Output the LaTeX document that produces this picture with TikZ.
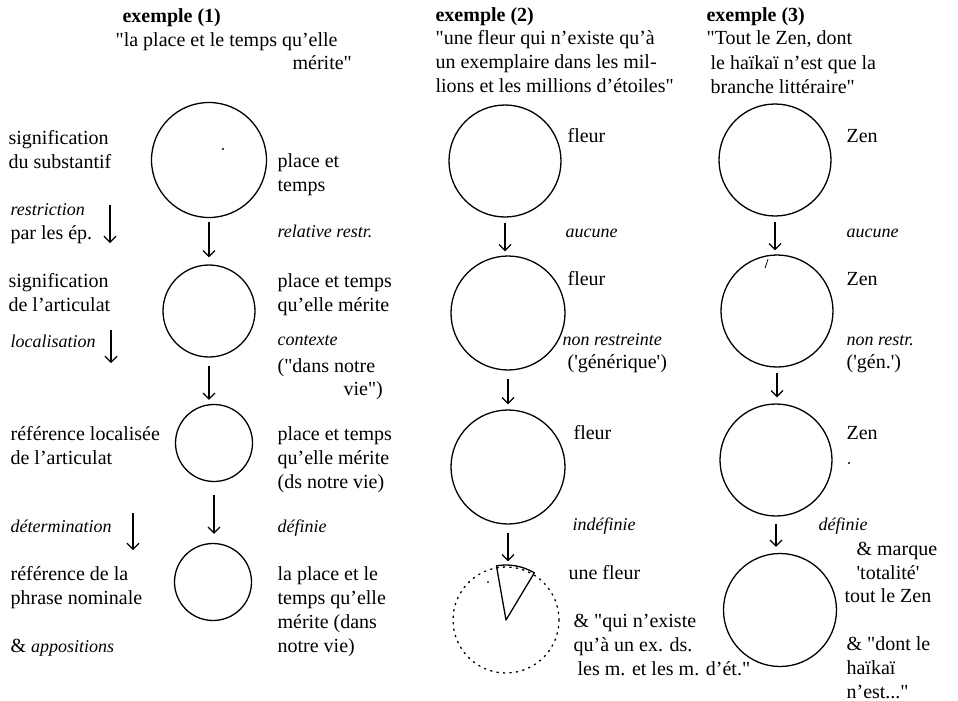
\documentclass[tikz,border=0pt]{standalone}
\usepackage{fontspec}
\setmainfont{Liberation Serif}[Ligatures=TeXOff]
\usetikzlibrary{arrows.meta}
\newcommand{\txtlines}[1]{\begin{tabular}[t]{@{}l@{}}#1\end{tabular}}

\tikzset{every picture/.style={line width=1.2pt}}

\begin{document}
\begin{tikzpicture}[x=1pt,y=1pt,yscale=-1,
	txt/.style={anchor=base west,inner sep=0pt,font=\fontsize{20}{24}\selectfont},
	ital/.style={txt,font=\fontsize{18}{24}\selectfont\itshape},
	head/.style={txt,font=\fontsize{20}{24}\selectfont\bfseries},
	ring/.style={circle,draw,line width=1.3pt,inner sep=0pt},
	flow/.style={-{Straight Barb[length=6pt,width=12pt]},line width=1.2pt}]
	\useasboundingbox (0,0) rectangle (958,701);

	%Shape: Circle 
	\node[ring,minimum size=115] (c1) at (209,160) {};
	\node[ring,minimum size=92] (c2) at (209,311) {};
	\node[ring,minimum size=77] (c3) at (214,443) {};
	\node[ring,minimum size=77] (c4) at (213,582) {};
	\node[ring,minimum size=112] (fa) at (505,161) {};
	\node[ring,minimum size=114] (fb) at (508,313) {};
	\node[ring,minimum size=114] (fc) at (508,467) {};
	\node[ring,minimum size=106,dash pattern=on 1.5pt off 5pt,line cap=round] (fd) at (506,620) {};
	\node[ring,minimum size=112] (za) at (775,160) {};
	\node[ring,minimum size=112] (zb) at (777,311) {};
	\node[ring,minimum size=112] (zc) at (776,460) {};
	\node[ring,minimum size=113] (zd) at (780,610) {};

	%Shape: Wedge 
	\draw[line width=1.3pt,line join=round] (fd.center) -- ++(-100:55) arc[start angle=-100,end angle=-59,radius=55] -- cycle;

	%Straight Lines 
	\draw[flow,shorten <=4pt,shorten >=7pt] (c1.south) -- (c1.south |- c2.north);
	\draw[flow,shorten <=8pt,shorten >=4pt] (c2.south) -- (c2.south |- c3.north);
	\draw[flow,shorten <=13pt,shorten >=9pt] (c3.south) -- (c3.south |- c4.north);
	\draw[flow,shorten <=5pt,shorten >=4pt] (fa.south) -- (fa.south |- fb.north);
	\draw[flow,shorten <=8pt,shorten >=5pt] (fb.south) -- (fb.south |- fc.north);
	\draw[flow,shorten <=8pt,shorten >=5pt] (fc.south) -- (fc.south |- fd.north);
	\draw[flow,shorten <=5pt,shorten >=4pt] (za.south) -- (za.south |- zb.north);
	\draw[flow,shorten <=5pt,shorten >=6pt] (zb.south) -- (zb.south |- zc.north);
	\draw[flow,shorten <=7pt,shorten >=6pt] (zc.south) -- (zc.south |- zd.north);
	\draw[flow] (110,205) -- (110,243);
	\draw[flow] (111,330) -- (111,363);
	\draw[flow] (133,513) -- (133,550);

	% Marks
	\fill (223,149) circle (1.2);
	\fill (488,582) circle (1);
	\fill (849,463) circle (1.2);
	\draw[line width=0.8pt] (768,259) -- (765,268);

	% Text Node
	\node[head] (ex1) at (122,23) {exemple (1)};
	\node[txt] (q1a) at (115,47) {"la place et le temps qu’elle};
	\node[txt] (q1b) at (292,70) {mérite"};
	% Text Node
	\node[txt] (sig1) at (8,144) {\txtlines{signification\\du substantif}};
	\node[ital] (restr) at (10,215) {restriction};
	\node[txt] (ep) at (10,239) {par les ép.};
	\node[txt] (sig2) at (8,287) {\txtlines{signification\\de l’articulat}};
	\node[ital] (loc) at (10,347) {localisation};
	\node[txt] (ref1) at (10,440) {\txtlines{référence localisée\\de l’articulat}};
	\node[ital] (det) at (10,532) {détermination};
	\node[txt] (ref2) at (10,580) {\txtlines{référence de la\\phrase nominale}};
	\node[txt] (app) at (10,652) {\& {\fontsize{18}{24}\selectfont\itshape appositions}};
	% Text Node
	\node[txt] (pl1) at (277,167) {\txtlines{place et\\temps}};
	\node[ital] (rel) at (277,237) {relative restr.};
	\node[txt] (pl2) at (277,287) {\txtlines{place et temps\\qu’elle mérite}};
	\node[ital] (ctx) at (277,345) {contexte};
	\node[txt] (ctxa) at (277,372) {("dans notre};
	\node[txt] (ctxb) at (343,395) {vie")};
	\node[txt] (pl3) at (277,440) {\txtlines{place et temps\\qu’elle mérite\\(ds notre vie)}};
	\node[ital] (def1) at (277,532) {définie};
	\node[txt] (pl4) at (277,580) {\txtlines{la place et le\\temps qu’elle\\mérite (dans\\notre vie)}};

	% Text Node
	\node[head] (ex2) at (435,22) {exemple (2)};
	\node[txt] (q2) at (435,45) {\txtlines{"une fleur qui n’existe qu’à\\un exemplaire dans les mil-\\lions et les millions d’étoiles"}};
	\node[txt] (fl1) at (567,142) {fleur};
	\node[ital] (auc1) at (565,237) {aucune};
	\node[txt] (fl2) at (567,285) {fleur};
	\node[ital] (nr1) at (562,345) {non restreinte};
	\node[txt] (gen1) at (567,368) {('générique')};
	\node[txt] (fl3) at (573,439) {fleur};
	\node[ital] (ind) at (572,530) {indéfinie};
	\node[txt] (ufl) at (568,579) {une fleur};
	\node[txt] (qui) at (573,627) {\txtlines{\& "qui n’existe\\qu’à un ex. ds.}};
	\node[txt] (lesm) at (577,675) {les m. et les m. d’ét."};

	% Text Node
	\node[head] (ex3) at (706,22) {exemple (3)};
	\node[txt] (q3a) at (706,45) {"Tout le Zen, dont};
	\node[txt] (q3b) at (710,70) {\txtlines{le haïkaï n’est que la\\branche littéraire"}};
	\node[txt] (zen1) at (846,142) {Zen};
	\node[ital] (auc2) at (846,237) {aucune};
	\node[txt] (zen2) at (846,285) {Zen};
	\node[ital] (nr2) at (846,345) {non restr.};
	\node[txt] (gen2) at (846,368) {('gén.')};
	\node[txt] (zen3) at (846,439) {Zen};
	\node[ital] (def2) at (818,530) {définie};
	\node[txt] (marq) at (856,555) {\txtlines{\& marque\\'totalité'}};
	\node[txt] (tout) at (844,602) {tout le Zen};
	\node[txt] (dont) at (846,650) {\txtlines{\& "dont le\\haïkaï\\n’est..."}};

\end{tikzpicture}
\end{document}
